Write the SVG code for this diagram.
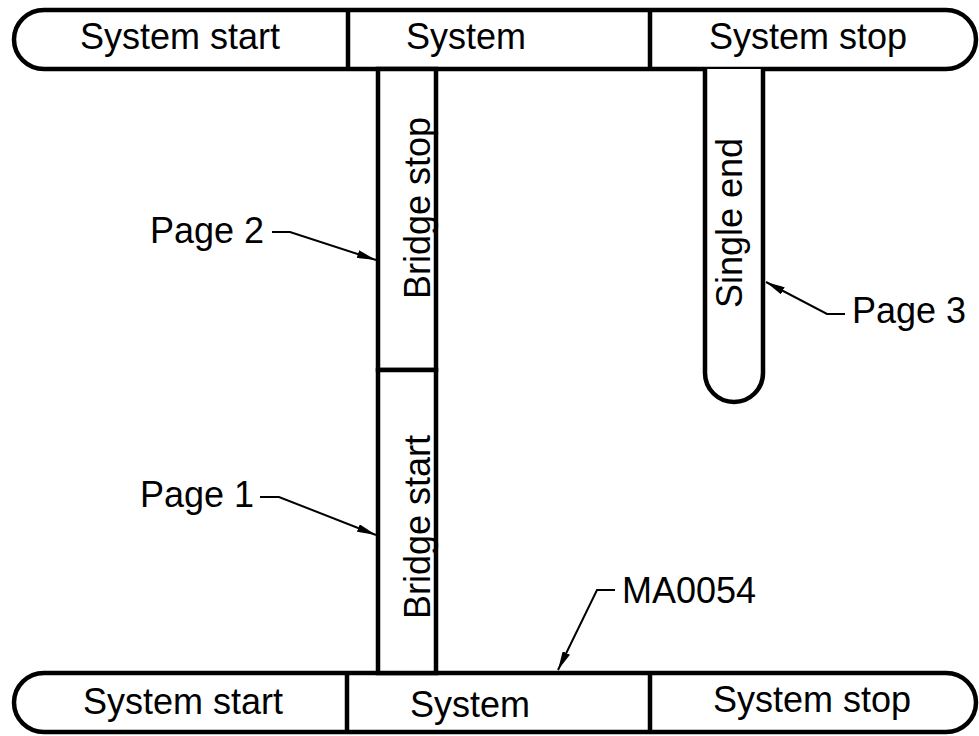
<svg xmlns="http://www.w3.org/2000/svg" width="979" height="736" viewBox="0 0 979 736">
<style>
.box{fill:#fff;stroke:#000;stroke-width:4.5}
.div{stroke:#000;stroke-width:4.5;fill:none}
.t{font-family:"Liberation Sans",Arial,sans-serif;font-size:36px;fill:#000}
.m{text-anchor:middle}
.ld{fill:none;stroke:#000;stroke-width:2}
</style>
<defs>
<marker id="ah" viewBox="0 0 19 8" refX="19" refY="4" markerWidth="19" markerHeight="8" markerUnits="userSpaceOnUse" orient="auto">
<path d="M0,0 L19,4 L0,8 z" fill="#000"/>
</marker>
</defs>
<rect width="979" height="736" fill="#fff"/>
<g id="top-bar">
<rect class="box" x="14" y="10" width="962" height="59" rx="30" ry="29.5"/>
<line class="div" x1="348" y1="10" x2="348" y2="69"/>
<line class="div" x1="650" y1="10" x2="650" y2="69"/>
<text class="t m" x="180" y="49">System start</text>
<text class="t m" x="466" y="49">System</text>
<text class="t m" x="808" y="49">System stop</text>
</g>
<g id="bottom-bar">
<rect class="box" x="14" y="673" width="962" height="59" rx="30" ry="29.5"/>
<line class="div" x1="347" y1="673" x2="347" y2="732"/>
<line class="div" x1="650" y1="673" x2="650" y2="732"/>
<text class="t m" x="183" y="714">System start</text>
<text class="t m" x="470" y="717">System</text>
<text class="t m" x="812" y="712">System stop</text>
</g>
<g id="bridge-stop">
<rect class="box" x="378" y="69" width="58" height="301"/>
<text class="t m" transform="translate(430,208) rotate(-90)">Bridge stop</text>
</g>
<g id="bridge-start">
<rect class="box" x="378" y="370" width="58" height="303"/>
<text class="t m" transform="translate(430,527) rotate(-90)">Bridge start</text>
</g>
<g id="single-end">
<path class="box" d="M705,69 L705,373 A29,29 0 0 0 763,373 L763,69"/>
<text class="t m" transform="translate(742,223) rotate(-90)">Single end</text>
</g>
<g id="connectors">
<polyline class="ld" points="272,232 290,232 376,260" marker-end="url(#ah)"/>
<polyline class="ld" points="260,497 279,497 376,535" marker-end="url(#ah)"/>
<polyline class="ld" points="845,314 827,314 766,282" marker-end="url(#ah)"/>
<polyline class="ld" points="615,590 597,590 558,670" marker-end="url(#ah)"/>
</g>
<g id="labels">
<text class="t" x="150" y="243">Page 2</text>
<text class="t" x="140" y="507">Page 1</text>
<text class="t" x="852" y="323">Page 3</text>
<text class="t" x="622" y="603">MA0054</text>
</g>
</svg>
